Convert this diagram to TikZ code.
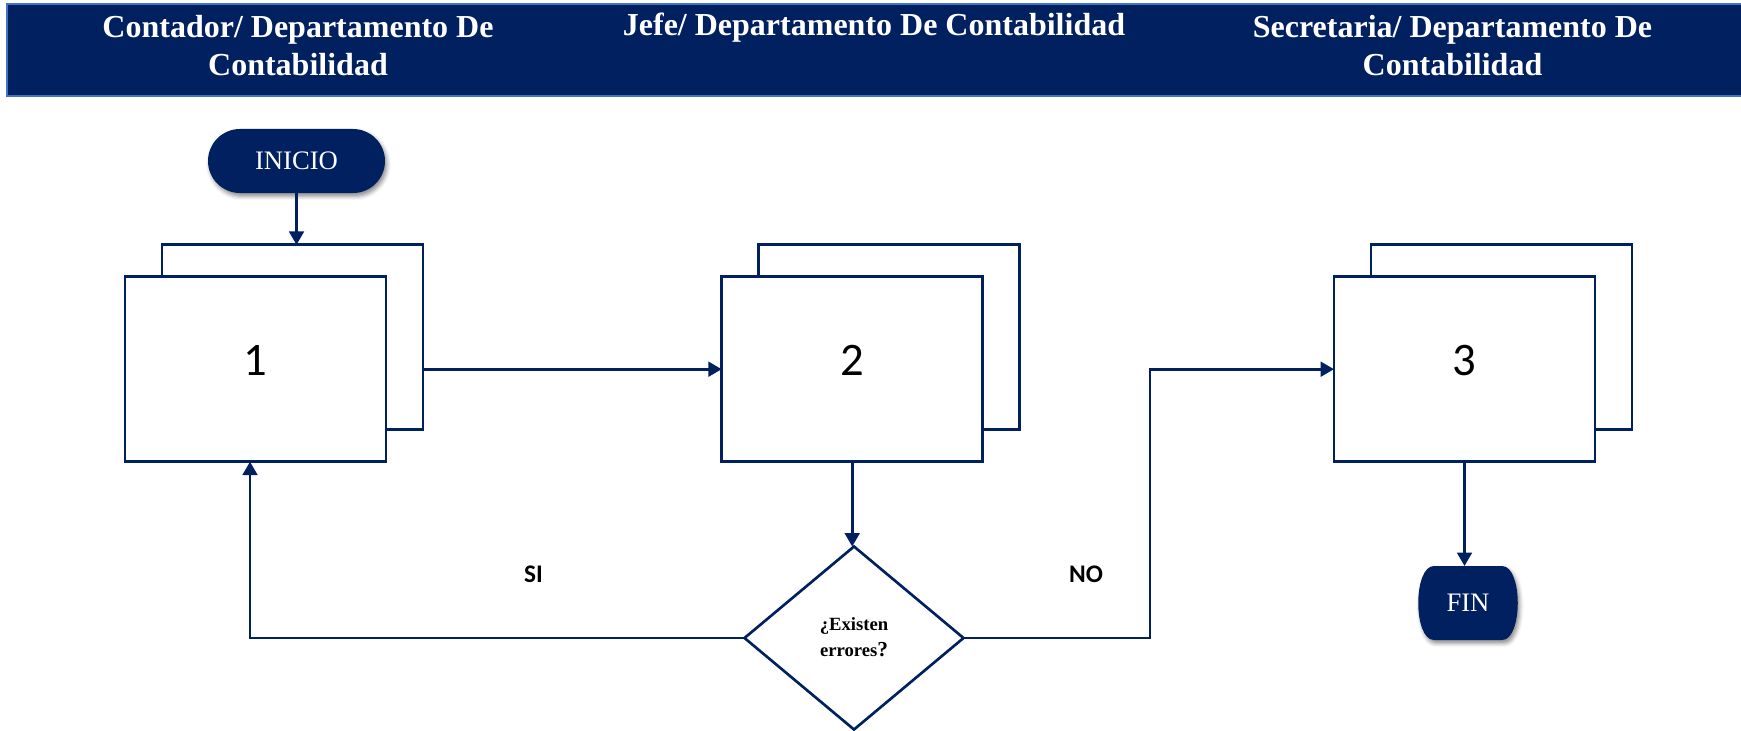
\documentclass[tikz,border=0pt]{standalone}
\usepackage{fontspec}
\setmainfont{Liberation Serif}
\newfontfamily\calibri{Carlito}
\usetikzlibrary{shapes.geometric,arrows.meta,shadows.blur,calc}
\definecolor{navy}{HTML}{002060}
\definecolor{rim}{HTML}{4472C4}

\begin{document}
\begin{tikzpicture}[x=0.75pt,y=-0.75pt,
  line/.style={draw=navy, line width=2pt},
  arr/.style={line, -{Triangle[width=11pt,length=10pt]}},
  sheet/.style={line, fill=white, rectangle, inner sep=0pt, outer sep=0pt,
    minimum width=195.75pt, minimum height=138.75pt,
    font=\calibri\fontsize{35}{40}\selectfont},
  softshadow/.style={blur shadow={shadow xshift=1.5pt, shadow yshift=-2.5pt,
      shadow blur radius=3pt, shadow opacity=45}},
  terminal/.style={rectangle, inner sep=0pt, outer sep=0pt,
    text=white, font=\fontsize{20}{24}\selectfont},
  decision/.style={line, fill=white, diamond, inner sep=0pt, outer sep=0pt,
    minimum width=164.25pt, minimum height=137.25pt,
    font=\bfseries\fontsize{14}{20}\selectfont},
  lanehead/.style={text=white, align=center, inner sep=0pt,
    font=\bfseries\fontsize{24}{28.5}\selectfont},
  answer/.style={inner sep=0pt, font=\calibri\bfseries\fontsize{19}{22}\selectfont},
]
\useasboundingbox (0,0) rectangle (1741,731);

% lane header band
\path[fill=navy, draw=rim, line width=2pt] (7,4) rectangle (1752,96);
\node[lanehead] (lane1) at (298,46) {Contador/ Departamento De\\Contabilidad};
\node[lanehead] (lane2) at (874,27.4) {Jefe/ Departamento De Contabilidad};
\node[lanehead] (lane3) at (1452.5,46) {Secretaria/ Departamento De\\Contabilidad};

% start terminal
\node[terminal, fill=navy, softshadow, minimum width=132.75pt, minimum height=48pt,
  rounded corners=24pt] (init) at (296.5,161) {INICIO};

% end terminal: flat top and bottom, bulging rounded sides
\coordinate (fc) at (1468,603);
\fill[navy, softshadow]
  ($(fc)+(-34,-37)$) -- ($(fc)+(34,-37)$)
  .. controls ($(fc)+(55,-37)$) and ($(fc)+(55,37)$) .. ($(fc)+(34,37)$)
  -- ($(fc)+(-34,37)$)
  .. controls ($(fc)+(-55,37)$) and ($(fc)+(-55,-37)$) .. cycle;
\node[terminal, minimum width=75pt, minimum height=55.5pt] (fin) at (fc) {FIN};

% stacked document sheets
\node[sheet] (b1back) at (292.5,337.3) {};
\node[sheet] (b1) at (255.5,369.2) {\raisebox{13.8pt}{1}};
\node[sheet] (b2back) at (889.2,337.3) {};
\node[sheet] (b2) at (852.2,369.2) {\raisebox{13.8pt}{2}};
\node[sheet] (b3back) at (1501.5,337.3) {};
\node[sheet] (b3) at (1464.5,369.2) {\raisebox{13.8pt}{3}};

% decision
\node[decision] (dia) at (854,638)
  {\raisebox{12pt}{\begin{tabular}{@{}c@{}}¿Existen\\[-1pt]errores{\fontsize{16}{20}\selectfont ?}\end{tabular}}};

\node[answer] (si) at (533.5,574.5) {SI};
\node[answer] (no) at (1086,574.5) {NO};

% connectors
\coordinate (siturn) at (250,638);
\coordinate (noturn) at (1150,638);
\draw[arr] (init.south) -- (init.south |- b1back.north);
\draw[arr] (b1back.east |- b1.center) -- (b2.west);
\draw[arr] (b2.south) -- (b2.south |- dia.north);
\draw[arr] (dia.west) -- (siturn) -- (siturn |- b1.south);
\draw[arr] (dia.east) -- (noturn) |- (b3.west);
\draw[arr] (b3.south) -- (b3.south |- fin.north);
\end{tikzpicture}
\end{document}
